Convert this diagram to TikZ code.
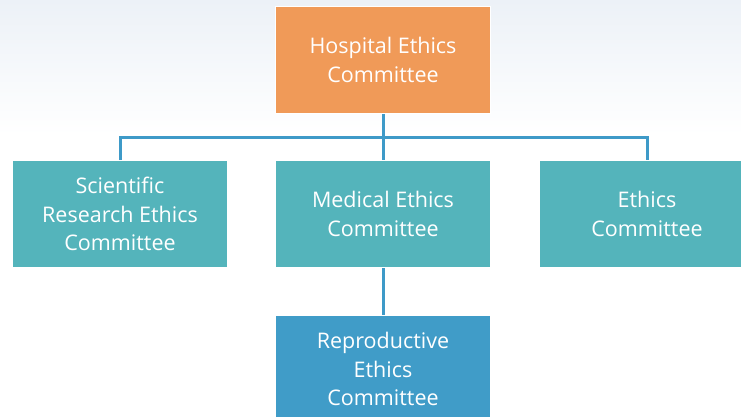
\documentclass[tikz,border=0pt]{standalone}
\usepackage{fontspec}
\setmainfont{Open Sans}
\definecolor{hecorange}{RGB}{240,154,88}
\definecolor{subteal}{RGB}{84,180,187}
\definecolor{repblue}{RGB}{64,156,200}
\definecolor{linkblue}{RGB}{62,154,200}
\definecolor{haze}{RGB}{236,241,247}
\begin{document}
\begin{tikzpicture}[x=1pt,y=-1pt,
  box/.style={draw=white, line width=1pt, minimum width=215pt, minimum height=107pt,
    inner sep=0pt, align=center, text=white, anchor=north west,
    font=\fontsize{21.5}{28.8}\selectfont},
  link/.style={draw=linkblue, line width=3pt}]
  % page and soft top haze
  \useasboundingbox (0,0) rectangle (741,417);
  \clip (0,0) rectangle (741,417);
  \fill[white] (0,0) rectangle (741,417);
  \shade[top color=haze, bottom color=white] (0,0) rectangle (741,135);

  % committees
  \node[box, fill=hecorange] (hec) at (275,6) {Hospital Ethics\\Committee};
  \node[box, fill=subteal] (sci) at (12,160) {Scientific\\Research Ethics\\Committee};
  \node[box, fill=subteal] (med) at (275,160) {Medical Ethics\\Committee};
  \node[box, fill=subteal] (eth) at (539,160) {Ethics\\Committee};
  \node[box, fill=repblue] (rep) at (275,315) {Reproductive\\Ethics\\Committee};

  % connectors
  \draw[link] (hec.south) -- (med.north);
  \draw[link] (sci.north) -- ++(0,-23) -| (eth.north);
  \draw[link] (med.south) -- (rep.north);
\end{tikzpicture}
\end{document}
